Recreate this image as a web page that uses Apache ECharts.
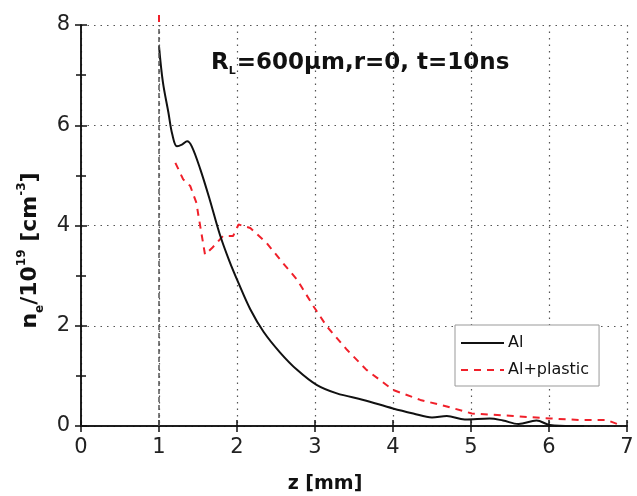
<!DOCTYPE html>
<html><head><meta charset="utf-8">
<script src="https://cdn.jsdelivr.net/npm/echarts@6/dist/echarts.min.js"></script>
<style>html,body{margin:0;padding:0;background:#fff}#c{width:637px;height:496px}</style>
</head><body><div id="c"></div>
<script>
const alZ = [1.0,1.05,1.12,1.17,1.23,1.30,1.36,1.42,1.53,1.65,1.78,1.90,2.02,2.17,2.34,2.55,2.77,3.02,3.28,3.62,4.0,4.26,4.50,4.69,4.92,5.24,5.41,5.61,5.84,6.01,6.3,6.45];
const alN = [7.58,6.86,6.26,5.82,5.58,5.62,5.68,5.58,5.12,4.52,3.82,3.3,2.85,2.33,1.88,1.47,1.12,0.82,0.65,0.52,0.35,0.25,0.17,0.20,0.13,0.15,0.11,0.04,0.11,0.02,0.0,0.0];
const plZ = [1.0,1.0,1.1,1.21,1.31,1.40,1.48,1.50,1.59,1.68,1.82,1.95,2.02,2.17,2.38,2.59,2.77,2.98,3.15,3.41,3.66,4.0,4.35,4.69,5.01,5.54,6.01,6.40,6.74,6.91];
const plN = [8.2,7.98,null,5.25,4.92,4.79,4.45,4.25,3.42,3.55,3.79,3.79,4.02,3.95,3.65,3.25,2.92,2.39,1.99,1.52,1.12,0.72,0.52,0.39,0.25,0.20,0.15,0.12,0.12,0.02];
const xTicks = [0,1,2,3,4,5,6,7];
const yTicks = [0,2,4,6,8];
const seriesNames = ['Al','Al+plastic'];
const markX = 1;

const chart = echarts.init(document.getElementById('c'));
const FF = '"DejaVu Sans", sans-serif';
const axisCommon = {
  axisLine:{lineStyle:{color:'#111',width:1.5}},
  axisTick:{show:true,inside:false,length:6,lineStyle:{color:'#111',width:1.5}},
  minorTick:{show:false},
};
const gridLine = {show:true,lineStyle:{color:'#555',type:[1.5,5],width:1.2}};
chart.setOption({
  animation:false,
  backgroundColor:'#fff',
  grid:{left:81,right:10,top:25,bottom:70,containLabel:false,outerBoundsMode:'none'},
  title:{
    left:206, top:44,
    text:'{b|R}{s|L}{b|=600μm,r=0, t=10ns}',
    textStyle:{rich:{
      b:{fontFamily:FF,fontWeight:'bold',fontSize:23,color:'#111',verticalAlign:'middle',lineHeight:28},
      s:{fontFamily:FF,fontSize:11,color:'#111',verticalAlign:'bottom',lineHeight:28,padding:[0,1,0,0]}
    }}
  },
  legend:{
    left:455, top:325, orient:'vertical',
    backgroundColor:'#fff', borderColor:'#999', borderWidth:1,
    padding:[10,10,8,5], itemGap:11, itemWidth:43, itemHeight:14,
    itemStyle:{opacity:0},
    textStyle:{fontFamily:FF,fontSize:16,color:'#111',padding:[0,0,0,-1]},
    data:seriesNames
  },
  xAxis:[{
    type:'value', min:xTicks[0], max:xTicks[xTicks.length-1], interval:1,
    name:'z [mm]', nameLocation:'middle', nameGap:49,
    nameTextStyle:{fontFamily:FF,fontWeight:'bold',fontSize:19,color:'#111',padding:[0,58,0,0]},
    axisLabel:{fontFamily:FF,fontSize:21,color:'#222',margin:11},
    splitLine:gridLine,
    ...axisCommon
  },{
    type:'value', position:'top', min:0, max:7, interval:1,
    axisLabel:{show:false}, splitLine:{show:false}, ...axisCommon
  }],
  yAxis:[{
    type:'value', min:yTicks[0], max:yTicks[yTicks.length-1], interval:2,
    name:'{b|n}{s|e}{b|/10}{p|19}{b| [cm}{p|-3}{b|]}', nameLocation:'middle', nameGap:34, nameRotate:90,
    nameTextStyle:{padding:[0,50,0,0],rich:{
      b:{fontFamily:FF,fontWeight:'bold',fontSize:22,color:'#111',verticalAlign:'middle',lineHeight:30},
      s:{fontFamily:FF,fontWeight:'bold',fontSize:12,color:'#111',verticalAlign:'bottom',lineHeight:30},
      p:{fontFamily:FF,fontWeight:'bold',fontSize:12,color:'#111',verticalAlign:'top',lineHeight:30}
    }},
    axisLabel:{fontFamily:FF,fontSize:21,color:'#222',margin:11},
    splitLine:gridLine,
    ...axisCommon,
    minorTick:{show:true,splitNumber:2,length:5,lineStyle:{color:'#111',width:1.5}}
  },{
    type:'value', position:'right', min:0, max:8, interval:2,
    axisLabel:{show:false}, splitLine:{show:false}, ...axisCommon,
    minorTick:{show:true,splitNumber:2,length:5,lineStyle:{color:'#111',width:1.5}}
  }],
  series:[{
    name:seriesNames[0], type:'line', symbol:'none', smooth:0.35,
    data:alZ.map((z,i)=>[z,alN[i]]),
    lineStyle:{color:'#111',width:2}, itemStyle:{color:'#111'}, z:3
  },{
    name:seriesNames[1], type:'line', symbol:'none', clip:false, connectNulls:false,
    data:plZ.map((z,i)=>plN[i]===null?[z,'-']:[z,plN[i]]),
    lineStyle:{color:'#f0202a',width:2,type:[7,6]}, itemStyle:{color:'#f0202a'}, z:2
  },{
    name:'marker', type:'line', data:[], z:10,
    markLine:{
      silent:true, symbol:'none', label:{show:false}, z:10,
      lineStyle:{color:'#555',type:[5,3],width:1.5},
      data:[{xAxis:markX}]
    }
  }]
});
</script></body></html>
